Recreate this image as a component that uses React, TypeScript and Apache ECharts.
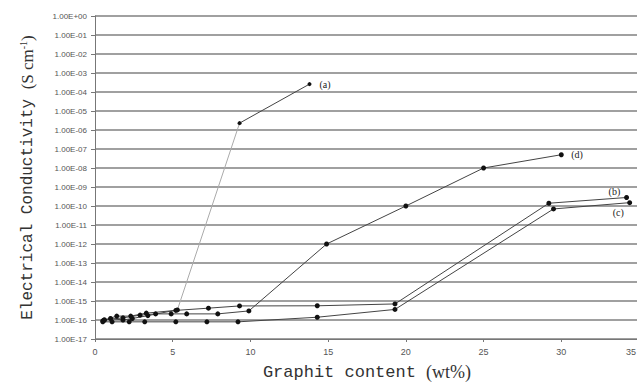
import React, { useEffect, useRef } from 'react';
import * as echarts from 'echarts';

// Graphite content (wt%) vs electrical conductivity (S/cm)
const seriesALow: number[][] = [[0.5, 9e-17], [1.0, 1.2e-16], [1.8, 1.0e-16], [2.4, 1.2e-16], [3.4, 1.7e-16], [5.3, 3.4e-16]];
const seriesARise: number[][] = [[5.3, 3.4e-16], [9.3, 2.3e-6]];
const seriesAHigh: number[][] = [[9.3, 2.3e-6], [13.8, 2.6e-4]];
const seriesB: number[][] = [[0.6, 1.0e-16], [1.4, 1.6e-16], [2.3, 1.6e-16], [3.3, 2.3e-16], [5.2, 3.2e-16], [7.3, 4.2e-16], [9.3, 5.5e-16], [14.3, 5.6e-16], [19.3, 7e-16], [29.2, 1.4e-10], [34.2, 2.8e-10]];
const seriesC: number[][] = [[0.5, 8e-17], [1.1, 8e-17], [2.2, 8e-17], [3.2, 8e-17], [5.2, 8e-17], [7.2, 8e-17], [9.2, 8e-17], [14.3, 1.4e-16], [19.3, 3.6e-16], [29.5, 7e-11], [34.4, 1.5e-10]];
const seriesD: number[][] = [[0.6, 1.0e-16], [1.8, 1.3e-16], [2.9, 1.8e-16], [3.9, 2.1e-16], [4.9, 2.1e-16], [5.9, 2.1e-16], [7.9, 2.1e-16], [9.9, 3e-16], [14.9, 1e-12], [20, 1e-10], [25, 1e-8], [30, 5e-8]];

const seriesLabels = ['(a)', '(b)', '(c)', '(d)'];
const xTitle = 'Graphit content ';
const xUnit = '(wt%)';
const yTitle = 'Electrical Conductivity ';
const xMax = 35;

const fmtExp = (v: number) => {
  const e = Math.round(Math.log10(v));
  return '1.00E' + (e < 0 ? '-' : '+') + String(Math.abs(e)).padStart(2, '0');
};

export default function App() {
  const ref = useRef<HTMLDivElement>(null);
  useEffect(() => {
    if (!ref.current) return;
    const chart = echarts.init(ref.current, undefined, { renderer: 'svg' });
    const lineBase = {
      type: 'line',
      symbol: 'circle',
      symbolSize: 5,
      itemStyle: { color: '#111' },
      lineStyle: { color: '#444', width: 1 },
      silent: true,
    };
    const endLab = (text: string, offset: number[]) => ({
      show: true,
      formatter: text,
      offset,
      fontFamily: 'Liberation Serif',
      fontSize: 10,
      color: '#222',
    });
    chart.setOption({
      animation: false,
      grid: { left: 95, right: -2, top: 16, bottom: 45, outerBoundsMode: 'none', containLabel: false },
      xAxis: {
        type: 'value',
        min: 0,
        max: xMax,
        interval: 5,
        axisLine: { lineStyle: { color: '#777' } },
        axisTick: { show: true, length: 3, lineStyle: { color: '#777' } },
        splitLine: { show: false },
        axisLabel: {
          fontSize: 9,
          color: '#555',
          fontFamily: 'Liberation Sans',
          margin: 8,
          formatter: (v: number) => (v === xMax ? `{r|${v}}` : String(v)),
          rich: { r: { fontSize: 9, color: '#555', fontFamily: 'Liberation Sans', padding: [0, 16, 0, 0] } },
        },
        name: `{m|${xTitle}}{s|${xUnit}}`,
        nameLocation: 'middle',
        nameGap: 24,
        nameTextStyle: {
          rich: {
            m: { fontFamily: 'Liberation Mono', fontSize: 17, color: '#333' },
            s: { fontFamily: 'Liberation Serif', fontSize: 18, color: '#333' },
          },
        },
      },
      yAxis: {
        type: 'log',
        logBase: 10,
        min: 1e-17,
        max: 1,
        interval: 1,
        splitNumber: 17,
        axisLine: { show: true, lineStyle: { color: '#777' } },
        axisTick: { show: true, length: 4, lineStyle: { color: '#777' } },
        splitLine: { show: true, lineStyle: { color: '#808080', width: 1.5 } },
        axisLabel: { fontSize: 8, color: '#555', fontFamily: 'Liberation Sans', margin: 8, formatter: fmtExp },
        name: `{m|${yTitle}}{s|(S cm}{sup|-1}{s|)}`,
        nameLocation: 'middle',
        nameRotate: 90,
        nameGap: 58,
        nameTextStyle: {
          rich: {
            m: { fontFamily: 'Liberation Mono', fontSize: 16, color: '#333' },
            s: { fontFamily: 'Liberation Serif', fontSize: 17, color: '#333' },
            sup: { fontFamily: 'Liberation Serif', fontSize: 10, color: '#333', verticalAlign: 'top', padding: [0, 0, 9, 0] },
          },
        },
      },
      series: [
        { ...lineBase, data: seriesALow },
        { type: 'line', symbol: 'none', silent: true, lineStyle: { color: '#aaa', width: 1 }, data: seriesARise },
        { ...lineBase, symbolSize: 4, data: seriesAHigh, endLabel: endLab(seriesLabels[0], [2, 0]) },
        { ...lineBase, data: seriesB, endLabel: endLab(seriesLabels[1], [-26, -6]) },
        { ...lineBase, data: seriesC, endLabel: endLab(seriesLabels[2], [-25, 10]) },
        { ...lineBase, data: seriesD, endLabel: endLab(seriesLabels[3], [2, 0]) },
      ],
    });
    return () => chart.dispose();
  }, []);
  return <div ref={ref} style={{ position: 'absolute', left: 0, top: 0, width: 637, height: 384, background: '#fff' }} />;
}
